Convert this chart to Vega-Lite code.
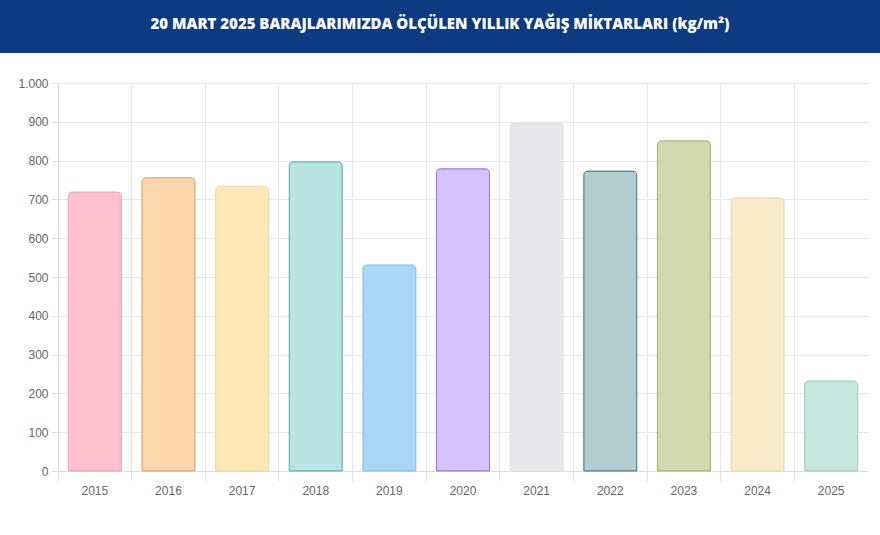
{
  "$schema": "https://vega.github.io/schema/vega-lite/v6.json",
  "padding": 0,
  "spacing": 24,
  "background": "white",
  "config": {
    "view": {"stroke": null},
    "font": "Liberation Sans"
  },
  "vconcat": [
    {
      "width": 880,
      "height": 53,
      "view": {"fill": "#0e3a82", "stroke": null},
      "data": {"values": [{"title": "20 MART 2025 BARAJLARIMIZDA ÖLÇÜLEN YILLIK YAĞIŞ MİKTARLARI (kg/m²)"}]},
      "mark": {"type": "text", "color": "white", "font": "Open Sans", "fontWeight": 800, "fontSize": 15, "baseline": "middle", "align": "center", "dy": -3},
      "encoding": {"text": {"field": "title"}}
    },
    {
      "width": 868,
      "height": 388,
      "data": {"values": [
        {"year": "2015", "value": 719},
        {"year": "2016", "value": 756},
        {"year": "2017", "value": 734},
        {"year": "2018", "value": 797},
        {"year": "2019", "value": 531},
        {"year": "2020", "value": 779},
        {"year": "2021", "value": 898},
        {"year": "2022", "value": 773},
        {"year": "2023", "value": 851},
        {"year": "2024", "value": 704},
        {"year": "2025", "value": 232}
      ]},
      "mark": {"type": "bar", "width": {"band": 0.72}, "strokeWidth": 1, "cornerRadiusTopLeft": 4, "cornerRadiusTopRight": 4},
      "encoding": {
        "x": {
          "field": "year", "type": "nominal", "title": null,
          "scale": {"paddingInner": 0, "paddingOuter": 0, "range": [58, 868]},
          "axis": {
            "bandPosition": 0, "labelAngle": 0, "labelColor": "#666666", "labelFontSize": 12, "labelPadding": 4,
            "tickSize": 10, "tickColor": "#e2e2e2", "domainColor": "#dcdcdc", "gridColor": "#e6e6e6", "grid": true
          }
        },
        "y": {
          "field": "value", "type": "quantitative", "title": null,
          "scale": {"domain": [0, 1000], "nice": false},
          "axis": {
            "offset": -58,
            "values": [0, 100, 200, 300, 400, 500, 600, 700, 800, 900, 1000],
            "labelExpr": "replace(format(datum.value, ','), ',', '.')",
            "labelColor": "#666666", "labelFontSize": 12, "labelPadding": 3,
            "tickSize": 7, "tickColor": "#e2e2e2", "domainColor": "#dcdcdc", "gridColor": "#e6e6e6"
          }
        },
        "fill": {
          "field": "year", "type": "nominal", "legend": null,
          "scale": {
            "domain": ["2015","2016","2017","2018","2019","2020","2021","2022","2023","2024","2025"],
            "range": ["#ffc1cf","#fdd6ad","#fde8b6","#b7e5e4","#aad7f6","#d5c3fe","#e8e8ea","#b2cdd0","#d3d9ae","#f8ebc9","#c4e6dd"]
          }
        },
        "stroke": {
          "field": "year", "type": "nominal", "legend": null,
          "scale": {
            "domain": ["2015","2016","2017","2018","2019","2020","2021","2022","2023","2024","2025"],
            "range": ["#f2a2b6","#d9a874","#f0d8a0","#6aaea8","#8cc0e6","#9c78e2","#e2e2e4","#527f86","#a8b076","#ecdaa8","#a2ccc1"]
          }
        }
      }
    }
  ]
}
